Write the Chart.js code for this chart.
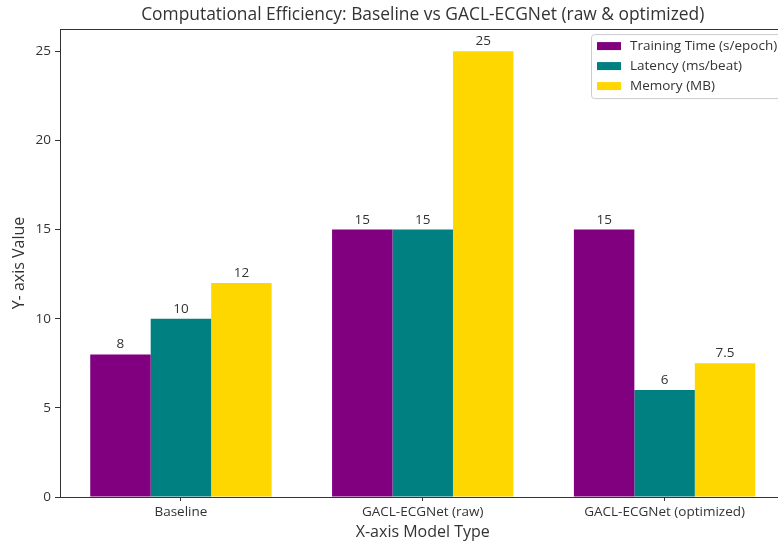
<!DOCTYPE html>
<html>
<head>
<meta charset="utf-8">
<script src="https://cdn.jsdelivr.net/npm/chart.js@4"></script>
<style>
  html, body { margin: 0; padding: 0; background: #fff; overflow: hidden; }
  #wrap { width: 778px; height: 545px; overflow: hidden; position: relative; }
  canvas { display: block; }
</style>
</head>
<body>
<div id="wrap"><canvas id="c" width="790" height="545"></canvas></div>
<script>
// Chart data
const categories = ['Baseline', 'GACL-ECGNet (raw)', 'GACL-ECGNet (optimized)'];
const seriesNames = ['Training Time (s/epoch)', 'Latency (ms/beat)', 'Memory (MB)'];
const trainingTime = [8, 15, 15];
const latency = [10, 15, 6];
const memory = [12, 25, 7.5];
const yTicks = [0, 5, 10, 15, 20, 25];
const yMax = 26.25;

const FONT = "'Open Sans', 'Noto Sans', sans-serif";
const INK = '#333333';
const colors = ['#800080', '#008080', '#FFD700'];

// Full frame around the plot area
const frame = {
  id: 'frame',
  afterDatasetsDraw(chart) {
    const { ctx, chartArea: a } = chart;
    ctx.save();
    ctx.strokeStyle = INK;
    ctx.lineWidth = 1;
    ctx.strokeRect(Math.round(a.left) + 0.5, Math.round(a.top) + 0.5,
                   Math.round(a.right - a.left), Math.round(a.bottom - a.top));
    ctx.restore();
  }
};

// Value labels above each bar
const valueLabels = {
  id: 'valueLabels',
  afterDatasetsDraw(chart) {
    const { ctx } = chart;
    ctx.save();
    ctx.font = '13.5px ' + FONT;
    ctx.fillStyle = INK;
    ctx.textAlign = 'center';
    ctx.textBaseline = 'bottom';
    chart.data.datasets.forEach((ds, i) => {
      chart.getDatasetMeta(i).data.forEach((bar, j) => {
        ctx.fillText(String(ds.data[j]), bar.x, bar.y - 3);
      });
    });
    ctx.restore();
  }
};

// Boxed legend in the upper-right corner of the plot
const boxLegend = {
  id: 'boxLegend',
  afterDraw(chart) {
    const { ctx, chartArea: a } = chart;
    const right = a.right - 5, left = 591, top = a.top + 5, rowH = 20;
    const h = rowH * chart.data.datasets.length + 4;
    ctx.save();
    ctx.fillStyle = 'rgba(255,255,255,0.85)';
    ctx.strokeStyle = '#cccccc';
    ctx.lineWidth = 1;
    ctx.beginPath();
    ctx.roundRect(left + 0.5, top + 0.5, right - left, h, 3);
    ctx.fill();
    ctx.stroke();
    ctx.font = '13.5px ' + FONT;
    ctx.textBaseline = 'middle';
    ctx.textAlign = 'left';
    chart.data.datasets.forEach((ds, i) => {
      const cy = top + 12 + i * rowH;
      ctx.fillStyle = ds.backgroundColor;
      ctx.fillRect(left + 6, cy - 4, 24, 8);
      ctx.fillStyle = INK;
      ctx.fillText(ds.label, left + 39, cy);
    });
    ctx.restore();
  }
};

new Chart(document.getElementById('c'), {
  type: 'bar',
  data: {
    labels: categories,
    datasets: [
      { label: seriesNames[0], data: trainingTime, backgroundColor: colors[0] },
      { label: seriesNames[1], data: latency, backgroundColor: colors[1] },
      { label: seriesNames[2], data: memory, backgroundColor: colors[2] }
    ]
  },
  options: {
    responsive: false,
    animation: false,
    events: [],
    layout: { padding: { left: 0, right: 4.5, top: 0, bottom: 0 } },
    datasets: { bar: { categoryPercentage: 0.75, barPercentage: 1.0, borderWidth: 0 } },
    plugins: {
      legend: { display: false },
      tooltip: { enabled: false },
      title: {
        display: true,
        fullSize: false,
        text: 'Computational Efficiency: Baseline vs GACL-ECGNet (raw & optimized)',
        color: INK,
        font: { family: FONT, size: 17.4, weight: 'normal' },
        padding: { top: 5, bottom: 3.2 }
      }
    },
    scales: {
      x: {
        offset: true,
        grid: { display: true, drawOnChartArea: false, drawTicks: true, tickLength: 4, color: INK, offset: false },
        border: { display: true, color: INK },
        ticks: { color: INK, font: { family: FONT, size: 13.5 }, padding: 3, maxRotation: 0 },
        title: { display: true, text: 'X-axis Model Type', color: INK,
                 font: { family: FONT, size: 16 }, padding: { top: 0, bottom: 3.4 } },
        afterFit(s) { s.height = 48; }
      },
      y: {
        min: 0, max: yMax,
        afterBuildTicks(s) { s.ticks = yTicks.map(v => ({ value: v })); },
        grid: { display: true, drawOnChartArea: false, drawTicks: true, tickLength: 5, color: INK },
        border: { display: true, color: INK },
        ticks: { color: INK, font: { family: FONT, size: 13.5 }, padding: 4 },
        title: { display: true, text: 'Y- axis Value', color: INK,
                 font: { family: FONT, size: 16 }, padding: { top: 10, bottom: 0 } },
        afterFit(s) { s.width = 60; }
      }
    }
  },
  plugins: [frame, valueLabels, boxLegend]
});
</script>
</body>
</html>
